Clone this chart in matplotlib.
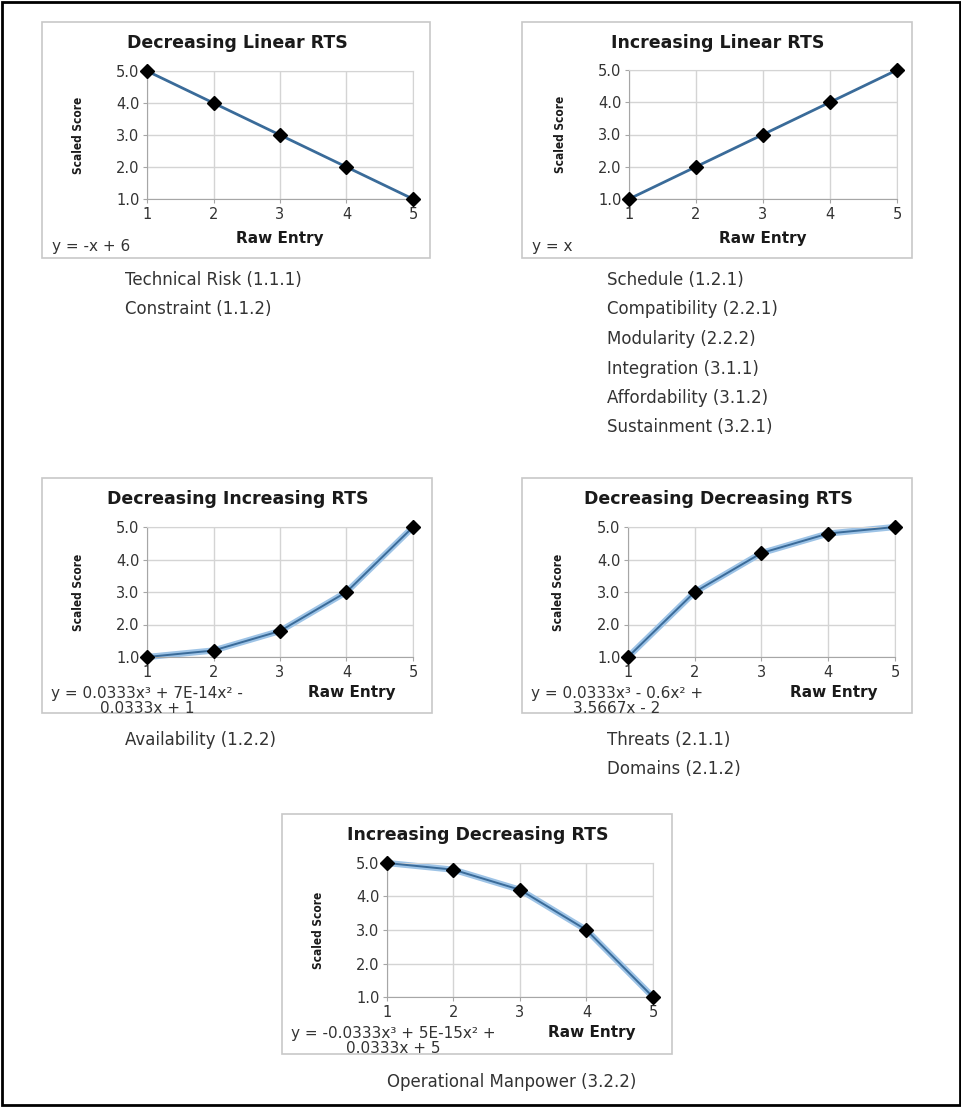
import numpy as np
import matplotlib
matplotlib.use("Agg")
import matplotlib.pyplot as plt
from matplotlib.patches import Rectangle

W, H = 962, 1107

# data for the five charts
raw_entry = [1, 2, 3, 4, 5]
titles = ["Decreasing Linear RTS", "Increasing Linear RTS",
          "Decreasing Increasing RTS", "Decreasing Decreasing RTS",
          "Increasing Decreasing RTS"]
scores_dec_lin = [5.0, 4.0, 3.0, 2.0, 1.0]
scores_inc_lin = [1.0, 2.0, 3.0, 4.0, 5.0]
scores_dec_inc = [1.0, 1.2, 1.8, 3.0, 5.0]
scores_dec_dec = [1.0, 3.0, 4.2, 4.8, 5.0]
scores_inc_dec = [5.0, 4.8, 4.2, 3.0, 1.0]
equations = ["y = -x + 6", "y = x",
             "y = 0.0333x\u00b3 + 7E-14x\u00b2 -\n0.0333x + 1",
             "y = 0.0333x\u00b3 - 0.6x\u00b2 +\n3.5667x - 2",
             "y = -0.0333x\u00b3 + 5E-15x\u00b2 +\n0.0333x + 5"]
criteria = [["Technical Risk (1.1.1)", "Constraint (1.1.2)"],
            ["Schedule (1.2.1)", "Compatibility (2.2.1)", "Modularity (2.2.2)",
             "Integration (3.1.1)", "Affordability (3.1.2)", "Sustainment (3.2.1)"],
            ["Availability (1.2.2)"],
            ["Threats (2.1.1)", "Domains (2.1.2)"],
            ["Operational Manpower (3.2.2)"]]
y_ticks = [1.0, 2.0, 3.0, 4.0, 5.0]

# layout in pixels: box, axes, list position
boxes = [(42, 22, 430, 258), (522, 22, 912, 258), (42, 478, 432, 713),
         (522, 478, 912, 713), (282, 814, 672, 1054)]
axes_px = [(147, 71, 413, 199), (629, 70, 897, 199), (147, 527, 413, 657),
           (628, 527, 895, 657), (387, 863, 653, 997)]
list_pos = [(125, 280), (607, 280), (125, 740), (607, 740), (387, 1082)]

fig = plt.figure(figsize=(W / 100, H / 100), dpi=100)


def fx(x):
    return x / W


def fy(y):
    return 1 - y / H


# outer frame
fig.patches.append(Rectangle((0.002, 0.002), 0.996, 0.996, transform=fig.transFigure,
                             fill=False, edgecolor="black", linewidth=2))

series = [scores_dec_lin, scores_inc_lin, scores_dec_inc, scores_dec_dec, scores_inc_dec]

for i in range(5):
    bx0, by0, bx1, by1 = boxes[i]
    fig.patches.append(Rectangle((fx(bx0), fy(by1)), fx(bx1) - fx(bx0), fy(by0) - fy(by1),
                                 transform=fig.transFigure, fill=False,
                                 edgecolor="#c8c8c8", linewidth=1.2))
    x0, y0, x1, y1 = axes_px[i]
    ax = fig.add_axes([fx(x0), fy(y1), fx(x1) - fx(x0), fy(y0) - fy(y1)])
    ys = series[i]
    if i >= 2:
        # trendline underlay
        ax.plot(raw_entry, ys, color="#9dc3e6", linewidth=4.5, solid_capstyle="round",
                clip_on=False, zorder=2)
    ax.plot(raw_entry, ys, color="#3a6b99", linewidth=2.0 if i < 2 else 1.4,
            marker="D", markersize=7, markerfacecolor="black", markeredgecolor="black",
            clip_on=False, zorder=3)
    ax.set_xlim(1, 5)
    ax.set_ylim(1, 5)
    ax.set_xticks(raw_entry)
    ax.set_yticks(y_ticks)
    ax.set_yticklabels(["%.1f" % v for v in y_ticks])
    ax.grid(True, color="#d4d4d4", linewidth=1)
    ax.set_axisbelow(True)
    for s in ax.spines.values():
        s.set_color("#d4d4d4")
    ax.spines["left"].set_color("#a6a6a6")
    ax.spines["bottom"].set_color("#a6a6a6")
    ax.tick_params(axis="both", colors="#a6a6a6", labelcolor="#333333",
                   labelsize=10.5, length=3, pad=2.5, direction="out")
    for lab in ax.get_xticklabels() + ax.get_yticklabels():
        lab.set_family("DejaVu Sans")

    # title
    fig.text(fx((bx0 + bx1) / 2 + 1), fy(by0 + 21), titles[i], ha="center", va="center",
             fontsize=12.5, fontweight="bold", family="DejaVu Sans", color="#1a1a1a")
    # y label
    fig.text(fx(x0 - 69), fy((y0 + y1) / 2), "Scaled Score", rotation=90,
             ha="center", va="center", fontsize=8.5, fontweight="bold",
             family="DejaVu Sans", fontstretch="condensed", color="#1a1a1a")
    # x label and equation
    if i < 2:
        fig.text(fx((x0 + x1) / 2), fy(y1 + 39), "Raw Entry", ha="center",
                 va="center", fontsize=11, fontweight="bold", family="DejaVu Sans",
                 color="#1a1a1a")
        fig.text(fx(bx0 + 10), fy(by1 - 12), equations[i], ha="left", va="center",
                 fontsize=11, family="DejaVu Sans", color="#333333")
    else:
        fig.text(fx(x1 - 61), fy(y1 + 35), "Raw Entry", ha="center", va="center",
                 fontsize=11, fontweight="bold", family="DejaVu Sans", color="#1a1a1a")
        fig.text(fx(bx0 + 9), fy(y1 + 44), equations[i], ha="left", va="center",
                 multialignment="center", fontsize=11, family="DejaVu Sans",
                 color="#333333", linespacing=1.0)

    lx, ly = list_pos[i]
    for k, name in enumerate(criteria[i]):
        fig.text(fx(lx), fy(ly + 29.5 * k), name, ha="left", va="center",
                 fontsize=12, family="DejaVu Sans", color="#333333")

fig.savefig("out.png", dpi=100)
